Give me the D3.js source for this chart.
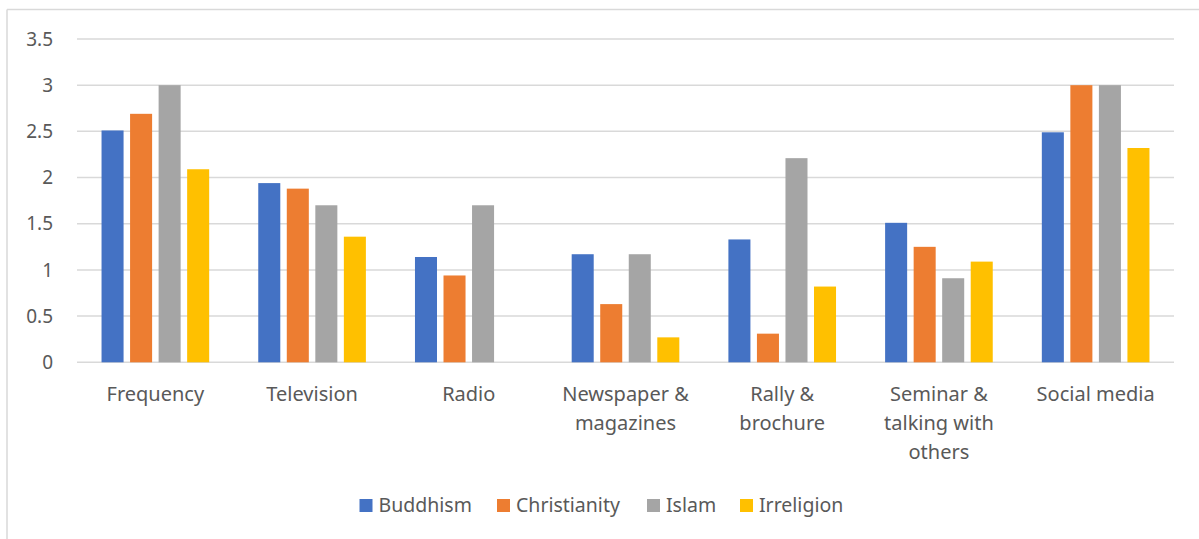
<!DOCTYPE html>
<html>
<head>
<meta charset="utf-8">
<script src="https://cdn.jsdelivr.net/npm/d3@7"></script>
<style>
  body { margin: 0; background: #fff; }
  text { font-family: "Noto Sans", sans-serif; fill: #595959; }
</style>
</head>
<body>
<script>
// data
var categories = ["Frequency", "Television", "Radio", "Newspaper & magazines",
                  "Rally & brochure", "Seminar & talking with others", "Social media"];
var categoryLines = [["Frequency"], ["Television"], ["Radio"], ["Newspaper &", "magazines"],
                     ["Rally &", "brochure"], ["Seminar &", "talking with", "others"], ["Social media"]];
var series = ["Buddhism", "Christianity", "Islam", "Irreligion"];
var colors = ["#4472c4", "#ed7d31", "#a5a5a5", "#ffc000"];
var buddhism     = [2.51, 1.94, 1.14, 1.17, 1.33, 1.51, 2.49];
var christianity = [2.69, 1.88, 0.94, 0.63, 0.31, 1.25, 3.0];
var islam        = [3.0, 1.70, 1.70, 1.17, 2.21, 0.91, 3.0];
var irreligion   = [2.09, 1.36, 0, 0.27, 0.82, 1.09, 2.32];
var yTicks = [0, 0.5, 1, 1.5, 2, 2.5, 3, 3.5];

var values = [buddhism, christianity, islam, irreligion];

var W = 1199, H = 539;
var svg = d3.select("body").append("svg")
    .attr("width", W)
    .attr("height", H);

// chart frame (only top and left edge are visible in the shot)
svg.append("line")
   .attr("x1", 7).attr("y1", 9.5).attr("x2", W).attr("y2", 9.5)
   .style("stroke", "#d9d9d9").style("stroke-width", 1.5);
svg.append("line")
   .attr("x1", 7).attr("y1", 9.5).attr("x2", 7).attr("y2", H)
   .style("stroke", "#d9d9d9").style("stroke-width", 1.5);

var plotLeft = 77, plotRight = 1174, plotTop = 39, plotBottom = 362.3;

var y = d3.scaleLinear().domain([0, 3.5]).range([plotBottom, plotTop]);
var x0 = d3.scaleBand().domain(categories).range([plotLeft, plotRight]).padding(0);
var x1 = d3.scaleBand().domain(series).range([0, x0.bandwidth()])
           .paddingInner(0.228).paddingOuter(0.86);

// gridlines
svg.selectAll("line.grid")
   .data(yTicks)
   .enter()
   .append("line")
   .attr("class", "grid")
   .attr("x1", plotLeft)
   .attr("x2", plotRight)
   .attr("y1", function(d) { return y(d); })
   .attr("y2", function(d) { return y(d); })
   .style("stroke", "#d9d9d9")
   .style("stroke-width", 1.5);

// y axis labels
svg.selectAll("text.ytick")
   .data(yTicks)
   .enter()
   .append("text")
   .attr("class", "ytick")
   .attr("x", 53)
   .attr("y", function(d) { return y(d); })
   .attr("dy", "0.35em")
   .attr("text-anchor", "end")
   .style("font-size", "19px")
   .text(function(d) { return d; });

// bars
var groups = svg.selectAll("g.cat")
   .data(categories)
   .enter()
   .append("g")
   .attr("class", "cat")
   .attr("transform", function(d) { return "translate(" + x0(d) + ",0)"; });

groups.selectAll("rect")
   .data(function(d, i) {
     return series.map(function(s, j) { return {s: s, j: j, v: values[j][i]}; });
   })
   .enter()
   .filter(function(d) { return d.v > 0; })
   .append("rect")
   .attr("x", function(d) { return x1(d.s); })
   .attr("y", function(d) { return y(d.v); })
   .attr("width", x1.bandwidth())
   .attr("height", function(d) { return y(0) - y(d.v); })
   .attr("fill", function(d) { return colors[d.j]; });

// category labels
categories.forEach(function(c, i) {
  var t = svg.append("text")
     .attr("text-anchor", "middle")
     .style("font-size", "20px");
  categoryLines[i].forEach(function(line, k) {
    t.append("tspan")
     .attr("x", x0(c) + x0.bandwidth() / 2)
     .attr("y", 401 + k * 29)
     .text(line);
  });
});

// legend
var legendX = [359.5, 497, 647, 740];
var legend = svg.selectAll("g.legend")
   .data(series)
   .enter()
   .append("g")
   .attr("class", "legend")
   .attr("transform", function(d, i) { return "translate(" + legendX[i] + ",499)"; });

legend.append("rect")
   .attr("width", 13)
   .attr("height", 13)
   .attr("fill", function(d, i) { return colors[i]; });

legend.append("text")
   .attr("x", 19)
   .attr("y", 6.5)
   .attr("dy", "0.35em")
   .style("font-size", "19.5px")
   .text(function(d) { return d; });
</script>
</body>
</html>
